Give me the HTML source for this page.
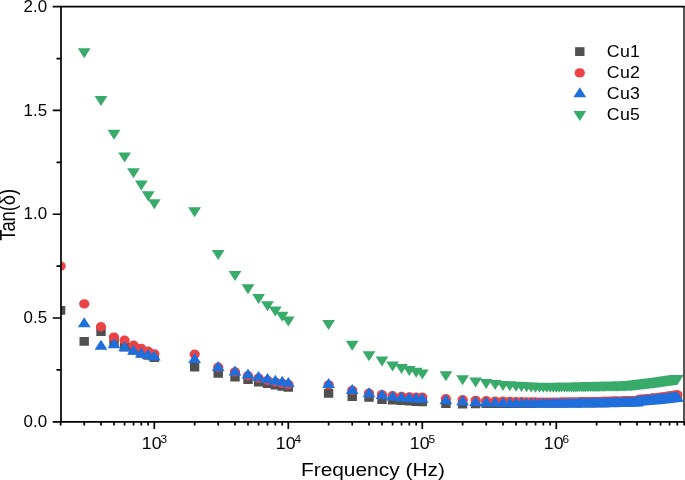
<!DOCTYPE html>
<html><head><meta charset="utf-8"><title>Tan delta vs Frequency</title>
<style>
html,body{margin:0;padding:0;background:#fff;}
body{width:685px;height:480px;overflow:hidden;}
svg{display:block;will-change:transform;}
text{font-family:"Liberation Sans",sans-serif;fill:#000;}
</style></head><body>
<svg width="685" height="480" viewBox="0 0 685 480">
<rect width="685" height="480" fill="#fff"/>
<defs><clipPath id="plot"><rect x="61.0" y="6.7" width="623.0" height="415.1"/></clipPath></defs>
<g clip-path="url(#plot)">
<path d="M55.9 305.9h9.4v8.8h-9.4zM79.5 336.9h9.4v8.8h-9.4zM96.3 327.3h9.4v8.8h-9.4zM109.3 337.5h9.4v8.8h-9.4zM119.9 342.7h9.4v8.8h-9.4zM128.8 345.8h9.4v8.8h-9.4zM136.6 348.9h9.4v8.8h-9.4zM143.5 351.0h9.4v8.8h-9.4zM149.6 353.1h9.4v8.8h-9.4zM189.9 362.8h9.4v8.8h-9.4zM213.5 369.0h9.4v8.8h-9.4zM230.3 372.7h9.4v8.8h-9.4zM243.3 375.1h9.4v8.8h-9.4zM253.9 377.6h9.4v8.8h-9.4zM262.8 379.3h9.4v8.8h-9.4zM270.6 380.6h9.4v8.8h-9.4zM277.5 381.9h9.4v8.8h-9.4zM283.6 383.0h9.4v8.8h-9.4zM323.9 389.0h9.4v8.8h-9.4zM347.5 392.1h9.4v8.8h-9.4zM364.3 393.0h9.4v8.8h-9.4zM377.3 395.1h9.4v8.8h-9.4zM387.9 395.6h9.4v8.8h-9.4zM396.8 396.1h9.4v8.8h-9.4zM404.6 396.6h9.4v8.8h-9.4zM411.5 397.1h9.4v8.8h-9.4zM417.6 397.4h9.4v8.8h-9.4zM441.2 399.1h9.4v8.8h-9.4zM457.9 399.6h9.4v8.8h-9.4zM470.9 399.4h9.4v8.8h-9.4zM481.5 399.3h9.4v8.8h-9.4zM490.5 399.3h9.4v8.8h-9.4zM498.3 399.2h9.4v8.8h-9.4zM505.1 399.2h9.4v8.8h-9.4zM511.3 399.1h9.4v8.8h-9.4zM516.8 399.1h9.4v8.8h-9.4zM521.9 399.1h9.4v8.8h-9.4zM526.5 399.1h9.4v8.8h-9.4zM530.8 399.0h9.4v8.8h-9.4zM534.9 399.0h9.4v8.8h-9.4zM538.6 399.0h9.4v8.8h-9.4zM542.1 399.0h9.4v8.8h-9.4zM545.5 399.0h9.4v8.8h-9.4zM548.6 398.9h9.4v8.8h-9.4zM551.6 398.9h9.4v8.8h-9.4zM554.4 398.9h9.4v8.8h-9.4zM557.1 398.9h9.4v8.8h-9.4zM559.7 398.8h9.4v8.8h-9.4zM562.2 398.8h9.4v8.8h-9.4zM564.6 398.8h9.4v8.8h-9.4zM566.9 398.8h9.4v8.8h-9.4zM569.1 398.7h9.4v8.8h-9.4zM571.2 398.7h9.4v8.8h-9.4zM573.2 398.7h9.4v8.8h-9.4zM575.2 398.7h9.4v8.8h-9.4zM577.1 398.7h9.4v8.8h-9.4zM579.0 398.6h9.4v8.8h-9.4zM580.7 398.6h9.4v8.8h-9.4zM582.5 398.6h9.4v8.8h-9.4zM584.2 398.6h9.4v8.8h-9.4zM585.8 398.6h9.4v8.8h-9.4zM587.4 398.6h9.4v8.8h-9.4zM589.0 398.5h9.4v8.8h-9.4zM590.5 398.5h9.4v8.8h-9.4zM591.9 398.5h9.4v8.8h-9.4zM593.4 398.5h9.4v8.8h-9.4zM594.8 398.4h9.4v8.8h-9.4zM596.1 398.4h9.4v8.8h-9.4zM597.5 398.4h9.4v8.8h-9.4zM598.8 398.3h9.4v8.8h-9.4zM600.1 398.3h9.4v8.8h-9.4zM601.3 398.3h9.4v8.8h-9.4zM602.5 398.3h9.4v8.8h-9.4zM603.7 398.2h9.4v8.8h-9.4zM604.9 398.2h9.4v8.8h-9.4zM606.1 398.2h9.4v8.8h-9.4zM607.2 398.1h9.4v8.8h-9.4zM608.3 398.1h9.4v8.8h-9.4zM609.4 398.1h9.4v8.8h-9.4zM610.5 398.1h9.4v8.8h-9.4zM611.5 398.0h9.4v8.8h-9.4zM612.5 398.0h9.4v8.8h-9.4zM613.6 398.0h9.4v8.8h-9.4zM614.6 398.0h9.4v8.8h-9.4zM615.5 397.9h9.4v8.8h-9.4zM616.5 397.9h9.4v8.8h-9.4zM617.4 397.9h9.4v8.8h-9.4zM618.4 397.9h9.4v8.8h-9.4zM619.3 397.8h9.4v8.8h-9.4zM620.2 397.8h9.4v8.8h-9.4zM621.1 397.8h9.4v8.8h-9.4zM622.0 397.8h9.4v8.8h-9.4zM622.8 397.8h9.4v8.8h-9.4zM623.7 397.7h9.4v8.8h-9.4zM624.5 397.7h9.4v8.8h-9.4zM625.3 397.7h9.4v8.8h-9.4zM626.1 397.7h9.4v8.8h-9.4zM626.9 397.6h9.4v8.8h-9.4zM627.7 397.4h9.4v8.8h-9.4zM628.5 397.3h9.4v8.8h-9.4zM629.3 397.2h9.4v8.8h-9.4zM630.1 397.0h9.4v8.8h-9.4zM630.8 396.9h9.4v8.8h-9.4zM631.5 396.8h9.4v8.8h-9.4zM632.3 396.7h9.4v8.8h-9.4zM633.0 396.6h9.4v8.8h-9.4zM633.7 396.4h9.4v8.8h-9.4zM634.4 396.4h9.4v8.8h-9.4zM635.1 396.3h9.4v8.8h-9.4zM635.8 396.3h9.4v8.8h-9.4zM636.5 396.2h9.4v8.8h-9.4zM637.2 396.2h9.4v8.8h-9.4zM637.8 396.1h9.4v8.8h-9.4zM638.5 396.0h9.4v8.8h-9.4zM639.1 396.0h9.4v8.8h-9.4zM639.8 395.9h9.4v8.8h-9.4zM640.4 395.9h9.4v8.8h-9.4zM641.0 395.8h9.4v8.8h-9.4zM641.7 395.8h9.4v8.8h-9.4zM642.3 395.7h9.4v8.8h-9.4zM642.9 395.7h9.4v8.8h-9.4zM643.5 395.6h9.4v8.8h-9.4zM644.1 395.6h9.4v8.8h-9.4zM644.7 395.5h9.4v8.8h-9.4zM645.3 395.5h9.4v8.8h-9.4zM645.8 395.4h9.4v8.8h-9.4zM646.4 395.4h9.4v8.8h-9.4zM647.0 395.3h9.4v8.8h-9.4zM647.5 395.3h9.4v8.8h-9.4zM648.1 395.2h9.4v8.8h-9.4zM648.7 395.2h9.4v8.8h-9.4zM649.2 395.2h9.4v8.8h-9.4zM649.7 395.1h9.4v8.8h-9.4zM650.3 395.1h9.4v8.8h-9.4zM650.8 395.0h9.4v8.8h-9.4zM651.3 395.0h9.4v8.8h-9.4zM651.9 394.9h9.4v8.8h-9.4zM652.4 394.9h9.4v8.8h-9.4zM652.9 394.8h9.4v8.8h-9.4zM653.4 394.7h9.4v8.8h-9.4zM653.9 394.7h9.4v8.8h-9.4zM654.4 394.6h9.4v8.8h-9.4zM654.9 394.6h9.4v8.8h-9.4zM655.4 394.5h9.4v8.8h-9.4zM655.9 394.4h9.4v8.8h-9.4zM656.4 394.4h9.4v8.8h-9.4zM656.8 394.3h9.4v8.8h-9.4zM657.3 394.3h9.4v8.8h-9.4zM657.8 394.2h9.4v8.8h-9.4zM658.2 394.2h9.4v8.8h-9.4zM658.7 394.1h9.4v8.8h-9.4zM659.2 394.1h9.4v8.8h-9.4zM659.6 394.0h9.4v8.8h-9.4zM660.1 394.0h9.4v8.8h-9.4zM660.5 393.9h9.4v8.8h-9.4zM661.0 393.8h9.4v8.8h-9.4zM661.4 393.8h9.4v8.8h-9.4zM661.9 393.7h9.4v8.8h-9.4zM662.3 393.7h9.4v8.8h-9.4zM662.7 393.6h9.4v8.8h-9.4zM663.2 393.6h9.4v8.8h-9.4zM663.6 393.5h9.4v8.8h-9.4zM664.0 393.5h9.4v8.8h-9.4zM664.4 393.4h9.4v8.8h-9.4zM664.8 393.4h9.4v8.8h-9.4zM665.3 393.4h9.4v8.8h-9.4zM665.7 393.3h9.4v8.8h-9.4zM666.1 393.3h9.4v8.8h-9.4zM666.5 393.2h9.4v8.8h-9.4zM666.9 393.2h9.4v8.8h-9.4zM667.3 393.1h9.4v8.8h-9.4zM667.7 393.1h9.4v8.8h-9.4zM668.1 393.0h9.4v8.8h-9.4zM668.5 393.0h9.4v8.8h-9.4zM668.9 392.9h9.4v8.8h-9.4zM669.2 392.9h9.4v8.8h-9.4zM669.6 392.8h9.4v8.8h-9.4zM670.0 392.8h9.4v8.8h-9.4zM670.4 392.8h9.4v8.8h-9.4zM670.8 392.7h9.4v8.8h-9.4zM671.1 392.7h9.4v8.8h-9.4zM671.5 392.6h9.4v8.8h-9.4zM671.9 392.6h9.4v8.8h-9.4zM672.2 392.5h9.4v8.8h-9.4zM672.6 392.5h9.4v8.8h-9.4z" fill="#505050"/>
<path d="M55.5 266.1a5.15 4.7 0 1 0 10.3 0a5.15 4.7 0 1 0 -10.3 0zM79.1 303.9a5.15 4.7 0 1 0 10.3 0a5.15 4.7 0 1 0 -10.3 0zM95.8 326.7a5.15 4.7 0 1 0 10.3 0a5.15 4.7 0 1 0 -10.3 0zM108.8 337.1a5.15 4.7 0 1 0 10.3 0a5.15 4.7 0 1 0 -10.3 0zM119.4 340.2a5.15 4.7 0 1 0 10.3 0a5.15 4.7 0 1 0 -10.3 0zM128.4 345.2a5.15 4.7 0 1 0 10.3 0a5.15 4.7 0 1 0 -10.3 0zM136.2 348.5a5.15 4.7 0 1 0 10.3 0a5.15 4.7 0 1 0 -10.3 0zM143.0 351.2a5.15 4.7 0 1 0 10.3 0a5.15 4.7 0 1 0 -10.3 0zM149.2 353.9a5.15 4.7 0 1 0 10.3 0a5.15 4.7 0 1 0 -10.3 0zM189.5 354.3a5.15 4.7 0 1 0 10.3 0a5.15 4.7 0 1 0 -10.3 0zM213.1 367.2a5.15 4.7 0 1 0 10.3 0a5.15 4.7 0 1 0 -10.3 0zM229.8 371.9a5.15 4.7 0 1 0 10.3 0a5.15 4.7 0 1 0 -10.3 0zM242.8 375.7a5.15 4.7 0 1 0 10.3 0a5.15 4.7 0 1 0 -10.3 0zM253.4 378.1a5.15 4.7 0 1 0 10.3 0a5.15 4.7 0 1 0 -10.3 0zM262.4 380.5a5.15 4.7 0 1 0 10.3 0a5.15 4.7 0 1 0 -10.3 0zM270.2 382.1a5.15 4.7 0 1 0 10.3 0a5.15 4.7 0 1 0 -10.3 0zM277.0 383.4a5.15 4.7 0 1 0 10.3 0a5.15 4.7 0 1 0 -10.3 0zM283.2 384.4a5.15 4.7 0 1 0 10.3 0a5.15 4.7 0 1 0 -10.3 0zM323.5 384.9a5.15 4.7 0 1 0 10.3 0a5.15 4.7 0 1 0 -10.3 0zM347.1 390.4a5.15 4.7 0 1 0 10.3 0a5.15 4.7 0 1 0 -10.3 0zM363.8 393.2a5.15 4.7 0 1 0 10.3 0a5.15 4.7 0 1 0 -10.3 0zM376.8 394.6a5.15 4.7 0 1 0 10.3 0a5.15 4.7 0 1 0 -10.3 0zM387.4 395.8a5.15 4.7 0 1 0 10.3 0a5.15 4.7 0 1 0 -10.3 0zM396.4 396.5a5.15 4.7 0 1 0 10.3 0a5.15 4.7 0 1 0 -10.3 0zM404.2 396.9a5.15 4.7 0 1 0 10.3 0a5.15 4.7 0 1 0 -10.3 0zM411.0 397.3a5.15 4.7 0 1 0 10.3 0a5.15 4.7 0 1 0 -10.3 0zM417.2 397.3a5.15 4.7 0 1 0 10.3 0a5.15 4.7 0 1 0 -10.3 0zM440.7 398.8a5.15 4.7 0 1 0 10.3 0a5.15 4.7 0 1 0 -10.3 0zM457.5 399.8a5.15 4.7 0 1 0 10.3 0a5.15 4.7 0 1 0 -10.3 0zM470.5 400.4a5.15 4.7 0 1 0 10.3 0a5.15 4.7 0 1 0 -10.3 0zM481.1 400.8a5.15 4.7 0 1 0 10.3 0a5.15 4.7 0 1 0 -10.3 0zM490.1 401.1a5.15 4.7 0 1 0 10.3 0a5.15 4.7 0 1 0 -10.3 0zM497.8 401.3a5.15 4.7 0 1 0 10.3 0a5.15 4.7 0 1 0 -10.3 0zM504.7 401.5a5.15 4.7 0 1 0 10.3 0a5.15 4.7 0 1 0 -10.3 0zM510.8 401.7a5.15 4.7 0 1 0 10.3 0a5.15 4.7 0 1 0 -10.3 0zM516.4 401.8a5.15 4.7 0 1 0 10.3 0a5.15 4.7 0 1 0 -10.3 0zM521.4 401.9a5.15 4.7 0 1 0 10.3 0a5.15 4.7 0 1 0 -10.3 0zM526.1 401.9a5.15 4.7 0 1 0 10.3 0a5.15 4.7 0 1 0 -10.3 0zM530.4 402.0a5.15 4.7 0 1 0 10.3 0a5.15 4.7 0 1 0 -10.3 0zM534.4 402.1a5.15 4.7 0 1 0 10.3 0a5.15 4.7 0 1 0 -10.3 0zM538.2 402.1a5.15 4.7 0 1 0 10.3 0a5.15 4.7 0 1 0 -10.3 0zM541.7 402.1a5.15 4.7 0 1 0 10.3 0a5.15 4.7 0 1 0 -10.3 0zM545.0 402.1a5.15 4.7 0 1 0 10.3 0a5.15 4.7 0 1 0 -10.3 0zM548.2 402.1a5.15 4.7 0 1 0 10.3 0a5.15 4.7 0 1 0 -10.3 0zM551.1 402.1a5.15 4.7 0 1 0 10.3 0a5.15 4.7 0 1 0 -10.3 0zM554.0 402.1a5.15 4.7 0 1 0 10.3 0a5.15 4.7 0 1 0 -10.3 0zM556.7 402.0a5.15 4.7 0 1 0 10.3 0a5.15 4.7 0 1 0 -10.3 0zM559.3 402.0a5.15 4.7 0 1 0 10.3 0a5.15 4.7 0 1 0 -10.3 0zM561.8 402.0a5.15 4.7 0 1 0 10.3 0a5.15 4.7 0 1 0 -10.3 0zM564.1 401.9a5.15 4.7 0 1 0 10.3 0a5.15 4.7 0 1 0 -10.3 0zM566.4 401.9a5.15 4.7 0 1 0 10.3 0a5.15 4.7 0 1 0 -10.3 0zM568.6 401.9a5.15 4.7 0 1 0 10.3 0a5.15 4.7 0 1 0 -10.3 0zM570.7 401.9a5.15 4.7 0 1 0 10.3 0a5.15 4.7 0 1 0 -10.3 0zM572.8 401.9a5.15 4.7 0 1 0 10.3 0a5.15 4.7 0 1 0 -10.3 0zM574.7 401.8a5.15 4.7 0 1 0 10.3 0a5.15 4.7 0 1 0 -10.3 0zM576.7 401.8a5.15 4.7 0 1 0 10.3 0a5.15 4.7 0 1 0 -10.3 0zM578.5 401.8a5.15 4.7 0 1 0 10.3 0a5.15 4.7 0 1 0 -10.3 0zM580.3 401.8a5.15 4.7 0 1 0 10.3 0a5.15 4.7 0 1 0 -10.3 0zM582.0 401.8a5.15 4.7 0 1 0 10.3 0a5.15 4.7 0 1 0 -10.3 0zM583.7 401.7a5.15 4.7 0 1 0 10.3 0a5.15 4.7 0 1 0 -10.3 0zM585.4 401.7a5.15 4.7 0 1 0 10.3 0a5.15 4.7 0 1 0 -10.3 0zM587.0 401.7a5.15 4.7 0 1 0 10.3 0a5.15 4.7 0 1 0 -10.3 0zM588.5 401.7a5.15 4.7 0 1 0 10.3 0a5.15 4.7 0 1 0 -10.3 0zM590.0 401.7a5.15 4.7 0 1 0 10.3 0a5.15 4.7 0 1 0 -10.3 0zM591.5 401.7a5.15 4.7 0 1 0 10.3 0a5.15 4.7 0 1 0 -10.3 0zM592.9 401.6a5.15 4.7 0 1 0 10.3 0a5.15 4.7 0 1 0 -10.3 0zM594.3 401.6a5.15 4.7 0 1 0 10.3 0a5.15 4.7 0 1 0 -10.3 0zM595.7 401.6a5.15 4.7 0 1 0 10.3 0a5.15 4.7 0 1 0 -10.3 0zM597.0 401.5a5.15 4.7 0 1 0 10.3 0a5.15 4.7 0 1 0 -10.3 0zM598.3 401.5a5.15 4.7 0 1 0 10.3 0a5.15 4.7 0 1 0 -10.3 0zM599.6 401.5a5.15 4.7 0 1 0 10.3 0a5.15 4.7 0 1 0 -10.3 0zM600.9 401.4a5.15 4.7 0 1 0 10.3 0a5.15 4.7 0 1 0 -10.3 0zM602.1 401.4a5.15 4.7 0 1 0 10.3 0a5.15 4.7 0 1 0 -10.3 0zM603.3 401.4a5.15 4.7 0 1 0 10.3 0a5.15 4.7 0 1 0 -10.3 0zM604.5 401.4a5.15 4.7 0 1 0 10.3 0a5.15 4.7 0 1 0 -10.3 0zM605.6 401.3a5.15 4.7 0 1 0 10.3 0a5.15 4.7 0 1 0 -10.3 0zM606.8 401.3a5.15 4.7 0 1 0 10.3 0a5.15 4.7 0 1 0 -10.3 0zM607.9 401.3a5.15 4.7 0 1 0 10.3 0a5.15 4.7 0 1 0 -10.3 0zM609.0 401.2a5.15 4.7 0 1 0 10.3 0a5.15 4.7 0 1 0 -10.3 0zM610.0 401.2a5.15 4.7 0 1 0 10.3 0a5.15 4.7 0 1 0 -10.3 0zM611.1 401.2a5.15 4.7 0 1 0 10.3 0a5.15 4.7 0 1 0 -10.3 0zM612.1 401.2a5.15 4.7 0 1 0 10.3 0a5.15 4.7 0 1 0 -10.3 0zM613.1 401.1a5.15 4.7 0 1 0 10.3 0a5.15 4.7 0 1 0 -10.3 0zM614.1 401.1a5.15 4.7 0 1 0 10.3 0a5.15 4.7 0 1 0 -10.3 0zM615.1 401.1a5.15 4.7 0 1 0 10.3 0a5.15 4.7 0 1 0 -10.3 0zM616.0 401.1a5.15 4.7 0 1 0 10.3 0a5.15 4.7 0 1 0 -10.3 0zM617.0 401.0a5.15 4.7 0 1 0 10.3 0a5.15 4.7 0 1 0 -10.3 0zM617.9 401.0a5.15 4.7 0 1 0 10.3 0a5.15 4.7 0 1 0 -10.3 0zM618.8 401.0a5.15 4.7 0 1 0 10.3 0a5.15 4.7 0 1 0 -10.3 0zM619.7 401.0a5.15 4.7 0 1 0 10.3 0a5.15 4.7 0 1 0 -10.3 0zM620.6 401.0a5.15 4.7 0 1 0 10.3 0a5.15 4.7 0 1 0 -10.3 0zM621.5 400.9a5.15 4.7 0 1 0 10.3 0a5.15 4.7 0 1 0 -10.3 0zM622.4 400.9a5.15 4.7 0 1 0 10.3 0a5.15 4.7 0 1 0 -10.3 0zM623.2 400.9a5.15 4.7 0 1 0 10.3 0a5.15 4.7 0 1 0 -10.3 0zM624.1 400.9a5.15 4.7 0 1 0 10.3 0a5.15 4.7 0 1 0 -10.3 0zM624.9 400.9a5.15 4.7 0 1 0 10.3 0a5.15 4.7 0 1 0 -10.3 0zM625.7 400.8a5.15 4.7 0 1 0 10.3 0a5.15 4.7 0 1 0 -10.3 0zM626.5 400.8a5.15 4.7 0 1 0 10.3 0a5.15 4.7 0 1 0 -10.3 0zM627.3 400.8a5.15 4.7 0 1 0 10.3 0a5.15 4.7 0 1 0 -10.3 0zM628.1 400.8a5.15 4.7 0 1 0 10.3 0a5.15 4.7 0 1 0 -10.3 0zM628.8 400.7a5.15 4.7 0 1 0 10.3 0a5.15 4.7 0 1 0 -10.3 0zM629.6 400.7a5.15 4.7 0 1 0 10.3 0a5.15 4.7 0 1 0 -10.3 0zM630.4 400.7a5.15 4.7 0 1 0 10.3 0a5.15 4.7 0 1 0 -10.3 0zM631.1 400.7a5.15 4.7 0 1 0 10.3 0a5.15 4.7 0 1 0 -10.3 0zM631.8 400.6a5.15 4.7 0 1 0 10.3 0a5.15 4.7 0 1 0 -10.3 0zM632.5 400.1a5.15 4.7 0 1 0 10.3 0a5.15 4.7 0 1 0 -10.3 0zM633.3 399.6a5.15 4.7 0 1 0 10.3 0a5.15 4.7 0 1 0 -10.3 0zM634.0 399.5a5.15 4.7 0 1 0 10.3 0a5.15 4.7 0 1 0 -10.3 0zM634.7 399.5a5.15 4.7 0 1 0 10.3 0a5.15 4.7 0 1 0 -10.3 0zM635.4 399.4a5.15 4.7 0 1 0 10.3 0a5.15 4.7 0 1 0 -10.3 0zM636.0 399.3a5.15 4.7 0 1 0 10.3 0a5.15 4.7 0 1 0 -10.3 0zM636.7 399.3a5.15 4.7 0 1 0 10.3 0a5.15 4.7 0 1 0 -10.3 0zM637.4 399.2a5.15 4.7 0 1 0 10.3 0a5.15 4.7 0 1 0 -10.3 0zM638.0 399.1a5.15 4.7 0 1 0 10.3 0a5.15 4.7 0 1 0 -10.3 0zM638.7 399.1a5.15 4.7 0 1 0 10.3 0a5.15 4.7 0 1 0 -10.3 0zM639.3 399.0a5.15 4.7 0 1 0 10.3 0a5.15 4.7 0 1 0 -10.3 0zM640.0 399.0a5.15 4.7 0 1 0 10.3 0a5.15 4.7 0 1 0 -10.3 0zM640.6 398.9a5.15 4.7 0 1 0 10.3 0a5.15 4.7 0 1 0 -10.3 0zM641.2 398.8a5.15 4.7 0 1 0 10.3 0a5.15 4.7 0 1 0 -10.3 0zM641.8 398.8a5.15 4.7 0 1 0 10.3 0a5.15 4.7 0 1 0 -10.3 0zM642.4 398.7a5.15 4.7 0 1 0 10.3 0a5.15 4.7 0 1 0 -10.3 0zM643.0 398.7a5.15 4.7 0 1 0 10.3 0a5.15 4.7 0 1 0 -10.3 0zM643.6 398.6a5.15 4.7 0 1 0 10.3 0a5.15 4.7 0 1 0 -10.3 0zM644.2 398.6a5.15 4.7 0 1 0 10.3 0a5.15 4.7 0 1 0 -10.3 0zM644.8 398.5a5.15 4.7 0 1 0 10.3 0a5.15 4.7 0 1 0 -10.3 0zM645.4 398.4a5.15 4.7 0 1 0 10.3 0a5.15 4.7 0 1 0 -10.3 0zM646.0 398.4a5.15 4.7 0 1 0 10.3 0a5.15 4.7 0 1 0 -10.3 0zM646.5 398.3a5.15 4.7 0 1 0 10.3 0a5.15 4.7 0 1 0 -10.3 0zM647.1 398.3a5.15 4.7 0 1 0 10.3 0a5.15 4.7 0 1 0 -10.3 0zM647.7 398.2a5.15 4.7 0 1 0 10.3 0a5.15 4.7 0 1 0 -10.3 0zM648.2 398.2a5.15 4.7 0 1 0 10.3 0a5.15 4.7 0 1 0 -10.3 0zM648.7 398.1a5.15 4.7 0 1 0 10.3 0a5.15 4.7 0 1 0 -10.3 0zM649.3 398.1a5.15 4.7 0 1 0 10.3 0a5.15 4.7 0 1 0 -10.3 0zM649.8 398.0a5.15 4.7 0 1 0 10.3 0a5.15 4.7 0 1 0 -10.3 0zM650.4 398.0a5.15 4.7 0 1 0 10.3 0a5.15 4.7 0 1 0 -10.3 0zM650.9 397.9a5.15 4.7 0 1 0 10.3 0a5.15 4.7 0 1 0 -10.3 0zM651.4 397.8a5.15 4.7 0 1 0 10.3 0a5.15 4.7 0 1 0 -10.3 0zM651.9 397.8a5.15 4.7 0 1 0 10.3 0a5.15 4.7 0 1 0 -10.3 0zM652.4 397.7a5.15 4.7 0 1 0 10.3 0a5.15 4.7 0 1 0 -10.3 0zM652.9 397.6a5.15 4.7 0 1 0 10.3 0a5.15 4.7 0 1 0 -10.3 0zM653.4 397.6a5.15 4.7 0 1 0 10.3 0a5.15 4.7 0 1 0 -10.3 0zM653.9 397.5a5.15 4.7 0 1 0 10.3 0a5.15 4.7 0 1 0 -10.3 0zM654.4 397.4a5.15 4.7 0 1 0 10.3 0a5.15 4.7 0 1 0 -10.3 0zM654.9 397.3a5.15 4.7 0 1 0 10.3 0a5.15 4.7 0 1 0 -10.3 0zM655.4 397.3a5.15 4.7 0 1 0 10.3 0a5.15 4.7 0 1 0 -10.3 0zM655.9 397.2a5.15 4.7 0 1 0 10.3 0a5.15 4.7 0 1 0 -10.3 0zM656.4 397.1a5.15 4.7 0 1 0 10.3 0a5.15 4.7 0 1 0 -10.3 0zM656.9 397.1a5.15 4.7 0 1 0 10.3 0a5.15 4.7 0 1 0 -10.3 0zM657.3 397.0a5.15 4.7 0 1 0 10.3 0a5.15 4.7 0 1 0 -10.3 0zM657.8 396.9a5.15 4.7 0 1 0 10.3 0a5.15 4.7 0 1 0 -10.3 0zM658.3 396.9a5.15 4.7 0 1 0 10.3 0a5.15 4.7 0 1 0 -10.3 0zM658.7 396.8a5.15 4.7 0 1 0 10.3 0a5.15 4.7 0 1 0 -10.3 0zM659.2 396.7a5.15 4.7 0 1 0 10.3 0a5.15 4.7 0 1 0 -10.3 0zM659.6 396.7a5.15 4.7 0 1 0 10.3 0a5.15 4.7 0 1 0 -10.3 0zM660.1 396.6a5.15 4.7 0 1 0 10.3 0a5.15 4.7 0 1 0 -10.3 0zM660.5 396.6a5.15 4.7 0 1 0 10.3 0a5.15 4.7 0 1 0 -10.3 0zM661.0 396.5a5.15 4.7 0 1 0 10.3 0a5.15 4.7 0 1 0 -10.3 0zM661.4 396.4a5.15 4.7 0 1 0 10.3 0a5.15 4.7 0 1 0 -10.3 0zM661.8 396.4a5.15 4.7 0 1 0 10.3 0a5.15 4.7 0 1 0 -10.3 0zM662.3 396.3a5.15 4.7 0 1 0 10.3 0a5.15 4.7 0 1 0 -10.3 0zM662.7 396.2a5.15 4.7 0 1 0 10.3 0a5.15 4.7 0 1 0 -10.3 0zM663.1 396.2a5.15 4.7 0 1 0 10.3 0a5.15 4.7 0 1 0 -10.3 0zM663.6 396.1a5.15 4.7 0 1 0 10.3 0a5.15 4.7 0 1 0 -10.3 0zM664.0 396.1a5.15 4.7 0 1 0 10.3 0a5.15 4.7 0 1 0 -10.3 0zM664.4 396.0a5.15 4.7 0 1 0 10.3 0a5.15 4.7 0 1 0 -10.3 0zM664.8 395.9a5.15 4.7 0 1 0 10.3 0a5.15 4.7 0 1 0 -10.3 0zM665.2 395.9a5.15 4.7 0 1 0 10.3 0a5.15 4.7 0 1 0 -10.3 0zM665.6 395.8a5.15 4.7 0 1 0 10.3 0a5.15 4.7 0 1 0 -10.3 0zM666.0 395.8a5.15 4.7 0 1 0 10.3 0a5.15 4.7 0 1 0 -10.3 0zM666.4 395.7a5.15 4.7 0 1 0 10.3 0a5.15 4.7 0 1 0 -10.3 0zM666.8 395.7a5.15 4.7 0 1 0 10.3 0a5.15 4.7 0 1 0 -10.3 0zM667.2 395.6a5.15 4.7 0 1 0 10.3 0a5.15 4.7 0 1 0 -10.3 0zM667.6 395.5a5.15 4.7 0 1 0 10.3 0a5.15 4.7 0 1 0 -10.3 0zM668.0 395.5a5.15 4.7 0 1 0 10.3 0a5.15 4.7 0 1 0 -10.3 0zM668.4 395.4a5.15 4.7 0 1 0 10.3 0a5.15 4.7 0 1 0 -10.3 0zM668.8 395.4a5.15 4.7 0 1 0 10.3 0a5.15 4.7 0 1 0 -10.3 0zM669.2 395.3a5.15 4.7 0 1 0 10.3 0a5.15 4.7 0 1 0 -10.3 0zM669.6 395.3a5.15 4.7 0 1 0 10.3 0a5.15 4.7 0 1 0 -10.3 0zM669.9 395.2a5.15 4.7 0 1 0 10.3 0a5.15 4.7 0 1 0 -10.3 0zM670.3 395.2a5.15 4.7 0 1 0 10.3 0a5.15 4.7 0 1 0 -10.3 0zM670.7 395.1a5.15 4.7 0 1 0 10.3 0a5.15 4.7 0 1 0 -10.3 0zM671.1 395.1a5.15 4.7 0 1 0 10.3 0a5.15 4.7 0 1 0 -10.3 0zM671.4 395.0a5.15 4.7 0 1 0 10.3 0a5.15 4.7 0 1 0 -10.3 0zM671.8 395.0a5.15 4.7 0 1 0 10.3 0a5.15 4.7 0 1 0 -10.3 0zM672.2 394.9a5.15 4.7 0 1 0 10.3 0a5.15 4.7 0 1 0 -10.3 0z" fill="#ea4245"/>
<path d="M77.8 327.2h12.8l-6.4 -10.0zM94.6 349.8h12.8l-6.4 -10.0zM107.6 348.3h12.8l-6.4 -10.0zM118.2 351.3h12.8l-6.4 -10.0zM127.1 354.8h12.8l-6.4 -10.0zM134.9 357.5h12.8l-6.4 -10.0zM141.8 358.9h12.8l-6.4 -10.0zM147.9 360.6h12.8l-6.4 -10.0zM188.2 362.9h12.8l-6.4 -10.0zM211.8 371.0h12.8l-6.4 -10.0zM228.6 375.4h12.8l-6.4 -10.0zM241.6 378.6h12.8l-6.4 -10.0zM252.2 380.9h12.8l-6.4 -10.0zM261.1 383.0h12.8l-6.4 -10.0zM268.9 384.7h12.8l-6.4 -10.0zM275.8 385.8h12.8l-6.4 -10.0zM281.9 387.0h12.8l-6.4 -10.0zM322.2 388.0h12.8l-6.4 -10.0zM345.8 393.9h12.8l-6.4 -10.0zM362.6 397.2h12.8l-6.4 -10.0zM375.6 398.9h12.8l-6.4 -10.0zM386.2 400.5h12.8l-6.4 -10.0zM395.1 401.4h12.8l-6.4 -10.0zM402.9 401.9h12.8l-6.4 -10.0zM409.8 402.4h12.8l-6.4 -10.0zM415.9 402.7h12.8l-6.4 -10.0zM439.5 404.2h12.8l-6.4 -10.0zM456.2 405.2h12.8l-6.4 -10.0zM469.2 405.9h12.8l-6.4 -10.0zM479.8 406.5h12.8l-6.4 -10.0zM488.8 406.7h12.8l-6.4 -10.0zM496.6 407.0h12.8l-6.4 -10.0zM503.4 407.2h12.8l-6.4 -10.0zM509.6 407.4h12.8l-6.4 -10.0zM515.1 407.5h12.8l-6.4 -10.0zM520.2 407.6h12.8l-6.4 -10.0zM524.8 407.7h12.8l-6.4 -10.0zM529.1 407.7h12.8l-6.4 -10.0zM533.2 407.8h12.8l-6.4 -10.0zM536.9 407.8h12.8l-6.4 -10.0zM540.4 407.8h12.8l-6.4 -10.0zM543.8 407.8h12.8l-6.4 -10.0zM546.9 407.8h12.8l-6.4 -10.0zM549.9 407.8h12.8l-6.4 -10.0zM552.7 407.8h12.8l-6.4 -10.0zM555.4 407.8h12.8l-6.4 -10.0zM558.0 407.7h12.8l-6.4 -10.0zM560.5 407.7h12.8l-6.4 -10.0zM562.9 407.7h12.8l-6.4 -10.0zM565.2 407.7h12.8l-6.4 -10.0zM567.4 407.7h12.8l-6.4 -10.0zM569.5 407.7h12.8l-6.4 -10.0zM571.5 407.6h12.8l-6.4 -10.0zM573.5 407.6h12.8l-6.4 -10.0zM575.4 407.6h12.8l-6.4 -10.0zM577.3 407.6h12.8l-6.4 -10.0zM579.0 407.6h12.8l-6.4 -10.0zM580.8 407.6h12.8l-6.4 -10.0zM582.5 407.6h12.8l-6.4 -10.0zM584.1 407.5h12.8l-6.4 -10.0zM585.7 407.5h12.8l-6.4 -10.0zM587.3 407.5h12.8l-6.4 -10.0zM588.8 407.5h12.8l-6.4 -10.0zM590.2 407.5h12.8l-6.4 -10.0zM591.7 407.5h12.8l-6.4 -10.0zM593.1 407.4h12.8l-6.4 -10.0zM594.4 407.4h12.8l-6.4 -10.0zM595.8 407.4h12.8l-6.4 -10.0zM597.1 407.4h12.8l-6.4 -10.0zM598.4 407.3h12.8l-6.4 -10.0zM599.6 407.3h12.8l-6.4 -10.0zM600.8 407.3h12.8l-6.4 -10.0zM602.0 407.2h12.8l-6.4 -10.0zM603.2 407.2h12.8l-6.4 -10.0zM604.4 407.2h12.8l-6.4 -10.0zM605.5 407.2h12.8l-6.4 -10.0zM606.6 407.2h12.8l-6.4 -10.0zM607.7 407.1h12.8l-6.4 -10.0zM608.8 407.1h12.8l-6.4 -10.0zM609.8 407.1h12.8l-6.4 -10.0zM610.8 407.1h12.8l-6.4 -10.0zM611.9 407.0h12.8l-6.4 -10.0zM612.9 407.0h12.8l-6.4 -10.0zM613.8 407.0h12.8l-6.4 -10.0zM614.8 407.0h12.8l-6.4 -10.0zM615.7 407.0h12.8l-6.4 -10.0zM616.7 406.9h12.8l-6.4 -10.0zM617.6 406.9h12.8l-6.4 -10.0zM618.5 406.9h12.8l-6.4 -10.0zM619.4 406.9h12.8l-6.4 -10.0zM620.3 406.9h12.8l-6.4 -10.0zM621.1 406.8h12.8l-6.4 -10.0zM622.0 406.8h12.8l-6.4 -10.0zM622.8 406.8h12.8l-6.4 -10.0zM623.6 406.8h12.8l-6.4 -10.0zM624.4 406.8h12.8l-6.4 -10.0zM625.2 406.7h12.8l-6.4 -10.0zM626.0 406.7h12.8l-6.4 -10.0zM626.8 406.7h12.8l-6.4 -10.0zM627.6 406.7h12.8l-6.4 -10.0zM628.4 406.6h12.8l-6.4 -10.0zM629.1 406.6h12.8l-6.4 -10.0zM629.8 406.6h12.8l-6.4 -10.0zM630.6 406.6h12.8l-6.4 -10.0zM631.3 406.0h12.8l-6.4 -10.0zM632.0 405.5h12.8l-6.4 -10.0zM632.7 405.5h12.8l-6.4 -10.0zM633.4 405.4h12.8l-6.4 -10.0zM634.1 405.4h12.8l-6.4 -10.0zM634.8 405.3h12.8l-6.4 -10.0zM635.5 405.3h12.8l-6.4 -10.0zM636.1 405.2h12.8l-6.4 -10.0zM636.8 405.2h12.8l-6.4 -10.0zM637.4 405.1h12.8l-6.4 -10.0zM638.1 405.1h12.8l-6.4 -10.0zM638.7 405.0h12.8l-6.4 -10.0zM639.3 405.0h12.8l-6.4 -10.0zM640.0 404.9h12.8l-6.4 -10.0zM640.6 404.9h12.8l-6.4 -10.0zM641.2 404.8h12.8l-6.4 -10.0zM641.8 404.8h12.8l-6.4 -10.0zM642.4 404.7h12.8l-6.4 -10.0zM643.0 404.7h12.8l-6.4 -10.0zM643.6 404.6h12.8l-6.4 -10.0zM644.1 404.6h12.8l-6.4 -10.0zM644.7 404.5h12.8l-6.4 -10.0zM645.3 404.5h12.8l-6.4 -10.0zM645.8 404.5h12.8l-6.4 -10.0zM646.4 404.4h12.8l-6.4 -10.0zM647.0 404.4h12.8l-6.4 -10.0zM647.5 404.3h12.8l-6.4 -10.0zM648.0 404.3h12.8l-6.4 -10.0zM648.6 404.3h12.8l-6.4 -10.0zM649.1 404.2h12.8l-6.4 -10.0zM649.6 404.2h12.8l-6.4 -10.0zM650.2 404.1h12.8l-6.4 -10.0zM650.7 404.0h12.8l-6.4 -10.0zM651.2 404.0h12.8l-6.4 -10.0zM651.7 403.9h12.8l-6.4 -10.0zM652.2 403.9h12.8l-6.4 -10.0zM652.7 403.8h12.8l-6.4 -10.0zM653.2 403.7h12.8l-6.4 -10.0zM653.7 403.7h12.8l-6.4 -10.0zM654.2 403.6h12.8l-6.4 -10.0zM654.7 403.6h12.8l-6.4 -10.0zM655.1 403.5h12.8l-6.4 -10.0zM655.6 403.5h12.8l-6.4 -10.0zM656.1 403.4h12.8l-6.4 -10.0zM656.5 403.3h12.8l-6.4 -10.0zM657.0 403.3h12.8l-6.4 -10.0zM657.5 403.2h12.8l-6.4 -10.0zM657.9 403.2h12.8l-6.4 -10.0zM658.4 403.1h12.8l-6.4 -10.0zM658.8 403.1h12.8l-6.4 -10.0zM659.3 403.0h12.8l-6.4 -10.0zM659.7 403.0h12.8l-6.4 -10.0zM660.2 402.9h12.8l-6.4 -10.0zM660.6 402.9h12.8l-6.4 -10.0zM661.0 402.8h12.8l-6.4 -10.0zM661.5 402.8h12.8l-6.4 -10.0zM661.9 402.7h12.8l-6.4 -10.0zM662.3 402.7h12.8l-6.4 -10.0zM662.7 402.6h12.8l-6.4 -10.0zM663.1 402.6h12.8l-6.4 -10.0zM663.6 402.5h12.8l-6.4 -10.0zM664.0 402.5h12.8l-6.4 -10.0zM664.4 402.4h12.8l-6.4 -10.0zM664.8 402.4h12.8l-6.4 -10.0zM665.2 402.3h12.8l-6.4 -10.0zM665.6 402.3h12.8l-6.4 -10.0zM666.0 402.2h12.8l-6.4 -10.0zM666.4 402.2h12.8l-6.4 -10.0zM666.8 402.1h12.8l-6.4 -10.0zM667.2 402.1h12.8l-6.4 -10.0zM667.5 402.0h12.8l-6.4 -10.0zM667.9 402.0h12.8l-6.4 -10.0zM668.3 402.0h12.8l-6.4 -10.0zM668.7 401.9h12.8l-6.4 -10.0zM669.1 401.9h12.8l-6.4 -10.0zM669.4 401.8h12.8l-6.4 -10.0zM669.8 401.8h12.8l-6.4 -10.0zM670.2 401.7h12.8l-6.4 -10.0zM670.5 401.7h12.8l-6.4 -10.0zM670.9 401.6h12.8l-6.4 -10.0z" fill="#1e6fdc"/>
<path d="M77.8 48.2h12.8l-6.4 10.0zM94.6 95.9h12.8l-6.4 10.0zM107.6 129.8h12.8l-6.4 10.0zM118.2 152.4h12.8l-6.4 10.0zM127.1 168.2h12.8l-6.4 10.0zM134.9 180.6h12.8l-6.4 10.0zM141.8 191.2h12.8l-6.4 10.0zM147.9 199.3h12.8l-6.4 10.0zM188.2 207.2h12.8l-6.4 10.0zM211.8 249.9h12.8l-6.4 10.0zM228.6 270.9h12.8l-6.4 10.0zM241.6 284.2h12.8l-6.4 10.0zM252.2 293.9h12.8l-6.4 10.0zM261.1 301.2h12.8l-6.4 10.0zM268.9 306.6h12.8l-6.4 10.0zM275.8 311.8h12.8l-6.4 10.0zM281.9 316.6h12.8l-6.4 10.0zM322.2 319.9h12.8l-6.4 10.0zM345.8 340.8h12.8l-6.4 10.0zM362.6 351.2h12.8l-6.4 10.0zM375.6 356.6h12.8l-6.4 10.0zM386.2 361.4h12.8l-6.4 10.0zM395.1 363.9h12.8l-6.4 10.0zM402.9 366.0h12.8l-6.4 10.0zM409.8 367.8h12.8l-6.4 10.0zM415.9 369.6h12.8l-6.4 10.0zM439.5 371.2h12.8l-6.4 10.0zM456.2 375.3h12.8l-6.4 10.0zM469.2 377.4h12.8l-6.4 10.0zM479.8 379.0h12.8l-6.4 10.0zM488.8 380.0h12.8l-6.4 10.0zM496.6 380.9h12.8l-6.4 10.0zM503.4 381.3h12.8l-6.4 10.0zM509.6 381.7h12.8l-6.4 10.0zM515.1 382.0h12.8l-6.4 10.0zM520.2 382.3h12.8l-6.4 10.0zM524.8 382.5h12.8l-6.4 10.0zM529.1 382.7h12.8l-6.4 10.0zM533.2 382.8h12.8l-6.4 10.0zM536.9 382.8h12.8l-6.4 10.0zM540.4 382.8h12.8l-6.4 10.0zM543.8 382.8h12.8l-6.4 10.0zM546.9 382.8h12.8l-6.4 10.0zM549.9 382.8h12.8l-6.4 10.0zM552.7 382.7h12.8l-6.4 10.0zM555.4 382.6h12.8l-6.4 10.0zM558.0 382.6h12.8l-6.4 10.0zM560.5 382.5h12.8l-6.4 10.0zM562.9 382.5h12.8l-6.4 10.0zM565.2 382.5h12.8l-6.4 10.0zM567.4 382.4h12.8l-6.4 10.0zM569.5 382.4h12.8l-6.4 10.0zM571.5 382.3h12.8l-6.4 10.0zM573.5 382.3h12.8l-6.4 10.0zM575.4 382.2h12.8l-6.4 10.0zM577.3 382.2h12.8l-6.4 10.0zM579.0 382.2h12.8l-6.4 10.0zM580.8 382.1h12.8l-6.4 10.0zM582.5 382.1h12.8l-6.4 10.0zM584.1 382.0h12.8l-6.4 10.0zM585.7 382.0h12.8l-6.4 10.0zM587.3 382.0h12.8l-6.4 10.0zM588.8 381.9h12.8l-6.4 10.0zM590.2 381.9h12.8l-6.4 10.0zM591.7 381.9h12.8l-6.4 10.0zM593.1 381.8h12.8l-6.4 10.0zM594.4 381.8h12.8l-6.4 10.0zM595.8 381.8h12.8l-6.4 10.0zM597.1 381.7h12.8l-6.4 10.0zM598.4 381.7h12.8l-6.4 10.0zM599.6 381.7h12.8l-6.4 10.0zM600.8 381.6h12.8l-6.4 10.0zM602.0 381.6h12.8l-6.4 10.0zM603.2 381.6h12.8l-6.4 10.0zM604.4 381.5h12.8l-6.4 10.0zM605.5 381.5h12.8l-6.4 10.0zM606.6 381.5h12.8l-6.4 10.0zM607.7 381.5h12.8l-6.4 10.0zM608.8 381.4h12.8l-6.4 10.0zM609.8 381.4h12.8l-6.4 10.0zM610.8 381.4h12.8l-6.4 10.0zM611.9 381.4h12.8l-6.4 10.0zM612.9 381.3h12.8l-6.4 10.0zM613.8 381.3h12.8l-6.4 10.0zM614.8 381.3h12.8l-6.4 10.0zM615.7 381.3h12.8l-6.4 10.0zM616.7 381.2h12.8l-6.4 10.0zM617.6 381.2h12.8l-6.4 10.0zM618.5 381.2h12.8l-6.4 10.0zM619.4 381.2h12.8l-6.4 10.0zM620.3 381.1h12.8l-6.4 10.0zM621.1 381.1h12.8l-6.4 10.0zM622.0 381.1h12.8l-6.4 10.0zM622.8 381.1h12.8l-6.4 10.0zM623.6 381.0h12.8l-6.4 10.0zM624.4 381.0h12.8l-6.4 10.0zM625.2 380.9h12.8l-6.4 10.0zM626.0 380.8h12.8l-6.4 10.0zM626.8 380.7h12.8l-6.4 10.0zM627.6 380.6h12.8l-6.4 10.0zM628.4 380.5h12.8l-6.4 10.0zM629.1 380.4h12.8l-6.4 10.0zM629.8 380.3h12.8l-6.4 10.0zM630.6 380.3h12.8l-6.4 10.0zM631.3 380.2h12.8l-6.4 10.0zM632.0 380.1h12.8l-6.4 10.0zM632.7 380.0h12.8l-6.4 10.0zM633.4 379.9h12.8l-6.4 10.0zM634.1 379.8h12.8l-6.4 10.0zM634.8 379.8h12.8l-6.4 10.0zM635.5 379.7h12.8l-6.4 10.0zM636.1 379.6h12.8l-6.4 10.0zM636.8 379.5h12.8l-6.4 10.0zM637.4 379.4h12.8l-6.4 10.0zM638.1 379.4h12.8l-6.4 10.0zM638.7 379.3h12.8l-6.4 10.0zM639.3 379.2h12.8l-6.4 10.0zM640.0 379.1h12.8l-6.4 10.0zM640.6 379.1h12.8l-6.4 10.0zM641.2 379.0h12.8l-6.4 10.0zM641.8 378.9h12.8l-6.4 10.0zM642.4 378.8h12.8l-6.4 10.0zM643.0 378.8h12.8l-6.4 10.0zM643.6 378.7h12.8l-6.4 10.0zM644.1 378.6h12.8l-6.4 10.0zM644.7 378.6h12.8l-6.4 10.0zM645.3 378.5h12.8l-6.4 10.0zM645.8 378.4h12.8l-6.4 10.0zM646.4 378.4h12.8l-6.4 10.0zM647.0 378.3h12.8l-6.4 10.0zM647.5 378.2h12.8l-6.4 10.0zM648.0 378.2h12.8l-6.4 10.0zM648.6 378.1h12.8l-6.4 10.0zM649.1 378.0h12.8l-6.4 10.0zM649.6 378.0h12.8l-6.4 10.0zM650.2 377.9h12.8l-6.4 10.0zM650.7 377.8h12.8l-6.4 10.0zM651.2 377.7h12.8l-6.4 10.0zM651.7 377.7h12.8l-6.4 10.0zM652.2 377.6h12.8l-6.4 10.0zM652.7 377.5h12.8l-6.4 10.0zM653.2 377.5h12.8l-6.4 10.0zM653.7 377.4h12.8l-6.4 10.0zM654.2 377.3h12.8l-6.4 10.0zM654.7 377.2h12.8l-6.4 10.0zM655.1 377.2h12.8l-6.4 10.0zM655.6 377.1h12.8l-6.4 10.0zM656.1 377.0h12.8l-6.4 10.0zM656.5 377.0h12.8l-6.4 10.0zM657.0 376.9h12.8l-6.4 10.0zM657.5 376.8h12.8l-6.4 10.0zM657.9 376.8h12.8l-6.4 10.0zM658.4 376.7h12.8l-6.4 10.0zM658.8 376.6h12.8l-6.4 10.0zM659.3 376.6h12.8l-6.4 10.0zM659.7 376.5h12.8l-6.4 10.0zM660.2 376.4h12.8l-6.4 10.0zM660.6 376.4h12.8l-6.4 10.0zM661.0 376.3h12.8l-6.4 10.0zM661.5 376.3h12.8l-6.4 10.0zM661.9 376.2h12.8l-6.4 10.0zM662.3 376.1h12.8l-6.4 10.0zM662.7 376.1h12.8l-6.4 10.0zM663.1 376.0h12.8l-6.4 10.0zM663.6 375.9h12.8l-6.4 10.0zM664.0 375.9h12.8l-6.4 10.0zM664.4 375.8h12.8l-6.4 10.0zM664.8 375.8h12.8l-6.4 10.0zM665.2 375.7h12.8l-6.4 10.0zM665.6 375.7h12.8l-6.4 10.0zM666.0 375.6h12.8l-6.4 10.0zM666.4 375.5h12.8l-6.4 10.0zM666.8 375.5h12.8l-6.4 10.0zM667.2 375.4h12.8l-6.4 10.0zM667.5 375.4h12.8l-6.4 10.0zM667.9 375.3h12.8l-6.4 10.0zM668.3 375.3h12.8l-6.4 10.0zM668.7 375.2h12.8l-6.4 10.0zM669.1 375.1h12.8l-6.4 10.0zM669.4 375.1h12.8l-6.4 10.0zM669.8 375.0h12.8l-6.4 10.0zM670.2 375.0h12.8l-6.4 10.0zM670.5 374.9h12.8l-6.4 10.0zM670.9 374.9h12.8l-6.4 10.0z" fill="#38ab6b"/>
</g>
<path d="M684.0 6.7V421.8" fill="none" stroke="#4c4c4c" stroke-width="1.9"/>
<path d="M684.7 6.7H61.0V421.8H684.7" fill="none" stroke="#000" stroke-width="1.7"/>
<path d="M52.7 421.80H61.0M52.7 318.02H61.0M52.7 214.25H61.0M52.7 110.47H61.0M52.7 6.70H61.0M56.5 369.91H61.0M56.5 266.14H61.0M56.5 162.36H61.0M56.5 58.59H61.0M60.64 421.8v3.6M84.23 421.8v3.6M100.98 421.8v3.6M113.96 421.8v3.6M124.57 421.8v3.6M133.54 421.8v3.6M141.31 421.8v3.6M148.17 421.8v3.6M154.30 421.8v7.3M194.64 421.8v3.6M218.23 421.8v3.6M234.98 421.8v3.6M247.96 421.8v3.6M258.57 421.8v3.6M267.54 421.8v3.6M275.31 421.8v3.6M282.17 421.8v3.6M288.30 421.8v7.3M328.64 421.8v3.6M352.23 421.8v3.6M368.98 421.8v3.6M381.96 421.8v3.6M392.57 421.8v3.6M401.54 421.8v3.6M409.31 421.8v3.6M416.17 421.8v3.6M422.30 421.8v7.3M462.64 421.8v3.6M486.23 421.8v3.6M502.98 421.8v3.6M515.96 421.8v3.6M526.57 421.8v3.6M535.54 421.8v3.6M543.31 421.8v3.6M550.17 421.8v3.6M556.30 421.8v7.3M596.64 421.8v3.6M620.23 421.8v3.6M636.98 421.8v3.6M649.96 421.8v3.6M660.57 421.8v3.6M669.54 421.8v3.6M677.31 421.8v3.6M684.17 421.8v3.6" fill="none" stroke="#000" stroke-width="1.7"/>
<text transform="translate(47.1,426.9) scale(1.07,1)" font-size="15.8" text-anchor="end" >0.0</text><text transform="translate(47.1,323.1) scale(1.07,1)" font-size="15.8" text-anchor="end" >0.5</text><text transform="translate(47.1,219.3) scale(1.07,1)" font-size="15.8" text-anchor="end" >1.0</text><text transform="translate(47.1,115.6) scale(1.07,1)" font-size="15.8" text-anchor="end" >1.5</text><text transform="translate(47.1,11.8) scale(1.07,1)" font-size="15.8" text-anchor="end" >2.0</text>
<text transform="translate(141.8,448.6) scale(1.095,1)" font-size="16.2" text-anchor="start" >10<tspan dx="-0.9" dy="-5.9" font-size="10.8">3</tspan></text><text transform="translate(275.8,448.6) scale(1.095,1)" font-size="16.2" text-anchor="start" >10<tspan dx="-0.9" dy="-5.9" font-size="10.8">4</tspan></text><text transform="translate(409.8,448.6) scale(1.095,1)" font-size="16.2" text-anchor="start" >10<tspan dx="-0.9" dy="-5.9" font-size="10.8">5</tspan></text><text transform="translate(543.8,448.6) scale(1.095,1)" font-size="16.2" text-anchor="start" >10<tspan dx="-0.9" dy="-5.9" font-size="10.8">6</tspan></text>
<text transform="translate(372.9,475.6) scale(1.1,1)" font-size="19" text-anchor="middle" >Frequency (Hz)</text>
<text transform="translate(14.6,214.8) rotate(-90) scale(0.965,1.14)" font-size="19" text-anchor="middle">Tan(δ)</text>
<g>
<path d="M575.1 47.2h9.4v8.8h-9.4z" fill="#505050"/>
<path d="M574.6 72.9a5.15 4.7 0 1 0 10.3 0a5.15 4.7 0 1 0 -10.3 0z" fill="#ea4245"/>
<path d="M573.4 97.2h12.8l-6.4 -10.0z" fill="#1e6fdc"/>
<path d="M573.4 111.0h12.8l-6.4 10.0z" fill="#38ab6b"/>
<text transform="translate(606.8,57.2) scale(1.045,1)" font-size="17" text-anchor="start" letter-spacing="0.25">Cu1</text>
<text transform="translate(606.8,78.4) scale(1.045,1)" font-size="17" text-anchor="start" letter-spacing="0.25">Cu2</text>
<text transform="translate(606.8,99.2) scale(1.045,1)" font-size="17" text-anchor="start" letter-spacing="0.25">Cu3</text>
<text transform="translate(606.8,120.0) scale(1.045,1)" font-size="17" text-anchor="start" letter-spacing="0.25">Cu5</text>
</g>
</svg>
</body></html>
